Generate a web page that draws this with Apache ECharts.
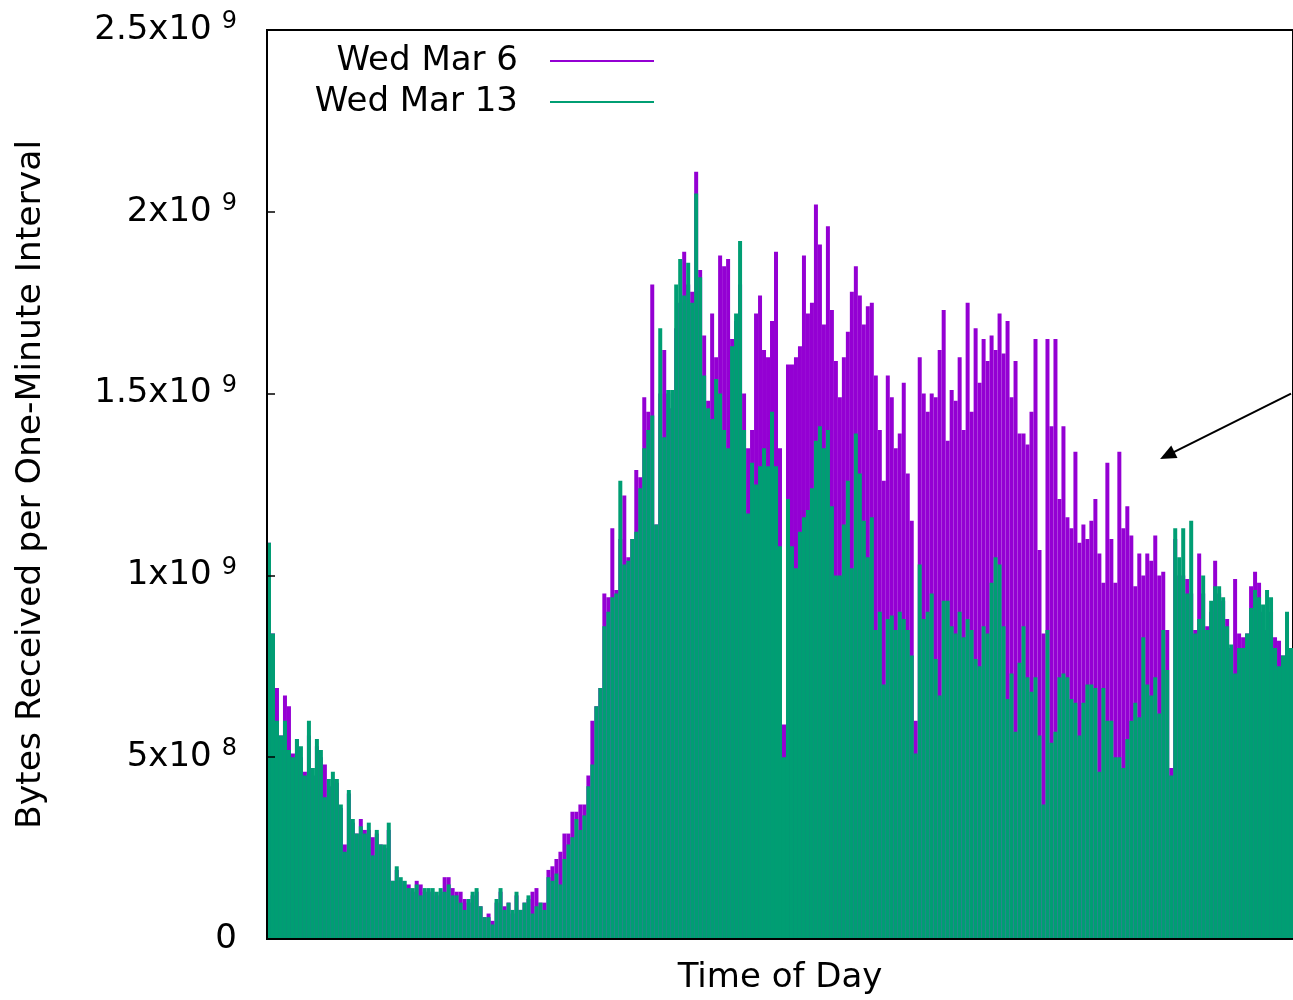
<!DOCTYPE html>
<html>
<head>
<meta charset="utf-8">
<script src="https://cdn.jsdelivr.net/npm/echarts@6/dist/echarts.min.js"></script>
<style>
  html, body { margin: 0; padding: 0; background: #fff; }
  #chart { width: 1293px; height: 1000px; }
</style>
</head>
<body>
<div id="chart"></div>
<script>
// bytes per one-minute interval, in units of 1e8, one bar per sample
const mar13 = [
  10.9, 8.4, 6.0, 5.6, 6.0, 5.2, 5.0, 5.5, 5.3, 4.5,
  6.0, 4.7, 5.5, 5.2, 3.9, 4.4, 4.6, 4.4, 3.7, 2.4,
  4.1, 3.3, 2.9, 3.1, 2.9, 3.2, 2.3, 3.0, 2.6, 2.6,
  3.2, 1.6, 2.0, 1.7, 1.6, 1.4, 1.4, 1.5, 1.2, 1.4,
  1.4, 1.4, 1.3, 1.4, 1.3, 1.5, 1.2, 1.2, 1.0, 0.8,
  1.1, 1.3, 1.4, 0.9, 0.6, 0.6, 0.4, 1.1, 1.4, 0.8,
  1.0, 0.8, 1.3, 0.8, 1.0, 1.2, 0.7, 0.9, 1.0, 0.8,
  1.7, 1.6, 1.8, 1.5, 2.2, 2.6, 2.8, 3.3, 3.0, 3.4,
  4.2, 4.8, 6.4, 6.9, 8.6, 9.0, 9.4, 9.5, 12.6, 10.3,
  10.4, 11.0, 11.2, 12.4, 13.5, 14.0, 14.4, 11.4, 16.8, 13.8,
  15.1, 15.1, 18.0, 18.7, 17.7, 18.6, 17.5, 20.5, 18.2, 15.5,
  14.6, 14.3, 15.4, 15.0, 14.0, 13.5, 16.3, 17.2, 19.2, 14.0,
  11.7, 13.1, 12.5, 13.0, 13.5, 13.0, 14.5, 13.0, 10.8, 5.0,
  12.1, 10.8, 10.2, 11.2, 11.6, 11.8, 12.4, 13.7, 14.1, 13.5,
  14.0, 11.9, 10.0, 10.0, 11.4, 12.6, 10.2, 13.9, 12.8, 11.5,
  10.5, 11.6, 8.5, 9.0, 7.0, 8.8, 8.9, 8.5, 9.0, 8.8,
  8.5, 7.8, 5.1, 10.3, 8.8, 9.0, 9.5, 7.7, 6.7, 9.3,
  9.3, 8.6, 8.4, 9.0, 8.3, 8.8, 8.5, 7.7, 7.5, 8.6,
  8.4, 9.8, 10.5, 10.3, 8.6, 6.6, 7.3, 5.7, 7.6, 8.6,
  7.2, 6.8, 7.2, 5.6, 3.7, 8.5, 5.4, 5.7, 7.2, 7.3,
  7.2, 6.6, 6.5, 5.6, 6.5, 7.0, 7.0, 6.9, 4.6, 6.9,
  6.0, 6.0, 5.0, 5.0, 4.7, 5.5, 6.0, 6.5, 6.1, 8.3,
  7.0, 6.7, 7.2, 6.2, 8.5, 7.4, 4.5, 11.3, 10.5, 11.3,
  9.5, 11.5, 8.4, 8.8, 10.0, 8.5, 9.3, 9.7, 9.7, 9.4,
  8.6, 8.1, 7.3, 8.0, 8.0, 8.4, 9.1, 9.6, 9.4, 9.2,
  9.6, 9.4, 8.0, 7.5, 7.8, 9.0, 8.0
]
const mar6 = [
  10.9, 8.4, 6.9, 5.6, 6.7, 6.4, 5.1, 5.5, 5.0, 4.6,
  5.6, 4.5, 5.3, 5.0, 4.8, 4.2, 4.4, 4.3, 3.6, 2.6,
  4.0, 3.2, 2.9, 3.3, 3.0, 3.0, 2.8, 2.9, 2.6, 2.5,
  3.0, 1.6, 1.9, 1.6, 1.5, 1.5, 1.3, 1.6, 1.5, 1.3,
  1.3, 1.3, 1.2, 1.3, 1.7, 1.7, 1.4, 1.3, 1.3, 1.1,
  1.0, 1.2, 1.3, 0.9, 0.6, 0.7, 0.5, 1.0, 1.3, 0.9,
  1.0, 0.7, 1.2, 0.8, 1.0, 1.1, 1.3, 1.4, 1.0, 1.0,
  1.9, 2.0, 2.2, 2.4, 2.9, 2.9, 3.5, 3.5, 3.7, 3.7,
  4.5, 6.0, 6.4, 6.9, 9.5, 9.4, 11.3, 9.6, 11.0, 12.2,
  10.5, 11.0, 12.9, 12.7, 14.9, 14.5, 18.0, 11.4, 15.0, 16.2,
  15.0, 14.6, 16.8, 17.5, 18.9, 18.0, 17.8, 21.1, 18.4, 16.6,
  14.8, 17.2, 16.0, 18.8, 18.5, 18.7, 16.5, 17.0, 18.0, 15.0,
  13.5, 14.0, 17.2, 17.7, 16.2, 16.0, 17.0, 18.9, 13.5, 5.9,
  15.8, 15.8, 16.0, 16.3, 18.8, 17.2, 17.5, 20.2, 19.1, 16.9,
  19.6, 17.3, 15.9, 14.9, 16.0, 16.7, 17.8, 18.5, 17.7, 16.9,
  17.4, 17.5, 15.5, 14.0, 12.6, 15.5, 14.9, 13.5, 13.9, 15.3,
  12.8, 11.5, 6.0, 16.0, 15.0, 14.5, 15.0, 14.9, 16.2, 17.3,
  13.7, 15.1, 14.8, 16.0, 14.0, 17.5, 14.5, 16.8, 15.3, 16.5,
  15.9, 16.6, 16.2, 17.2, 16.1, 17.0, 14.9, 15.9, 13.9, 13.9,
  13.6, 14.5, 16.5, 10.7, 8.4, 16.5, 14.1, 16.5, 12.1, 14.1,
  11.6, 11.3, 13.4, 10.9, 11.4, 11.0, 11.5, 12.1, 10.6, 9.8,
  13.1, 11.0, 9.8, 13.4, 11.3, 11.9, 11.1, 9.7, 10.6, 10.0,
  10.6, 10.4, 11.1, 10.0, 10.1, 8.5, 4.7, 11.0, 10.0, 10.0,
  9.9, 9.5, 8.5, 10.6, 9.5, 8.6, 9.0, 10.4, 9.5, 9.3,
  8.8, 8.0, 9.9, 8.4, 8.3, 8.4, 9.7, 10.1, 9.8, 9.0,
  8.5, 9.0, 8.3, 8.2, 7.8, 8.5, 7.8
]
const yTickValues = [0, 5, 10, 15, 20, 25]
const yTickLabels = ['0', '5x10^8', '1x10^9', '1.5x10^9', '2x10^9', '2.5x10^9']
// arrow annotation: [sample index, value] tail -> head
const arrowFrom = [256, 15.0]
const arrowTo = [225, 13.3]

const samples = mar13.map((_, i) => String(i))
const FONT = 'DejaVu Sans'
const PURPLE = '#9400d3'
const GREEN = '#009e73'

const chart = echarts.init(document.getElementById('chart'))
const legendText = {
    fontFamily: FONT,
    fontSize: 34,
    color: '#000',
    padding: [0, 27, 0, 0]
}
const option = {
    animation: false,
    backgroundColor: '#fff',
    grid: {
        left: 267, top: 30, width: 1028, height: 914,
        show: true, borderColor: '#000', borderWidth: 2
    },
    legend: [
        {
            data: ['Wed Mar 6'], right: 634, top: 39, align: 'right',
            icon: 'rect', itemWidth: 104, itemHeight: 2,
            textStyle: legendText, selectedMode: false
        },
        {
            data: ['Wed Mar 13'], right: 634, top: 80, align: 'right',
            icon: 'rect', itemWidth: 104, itemHeight: 2,
            textStyle: legendText, selectedMode: false
        }
    ],
    xAxis: {
        type: 'category',
        data: samples,
        z: 10,
        axisLine: { show: true, lineStyle: { color: '#000', width: 2 } },
        axisTick: { show: false },
        axisLabel: { show: false },
        name: 'Time of Day',
        nameLocation: 'middle',
        nameGap: 22,
        nameTextStyle: { fontFamily: FONT, fontSize: 34, color: '#000', verticalAlign: 'top' }
    },
    yAxis: {
        type: 'value',
        min: 0, max: 25, interval: 5,
        z: 10,
        axisLine: { show: true, lineStyle: { color: '#000', width: 2 } },
        axisTick: { show: true, inside: true, length: 8, lineStyle: { color: '#000', width: 1.5 } },
        splitLine: { show: false },
        axisLabel: {
            margin: 30,
            formatter: (v) => {
                const t = yTickLabels[yTickValues.indexOf(v)] || ''
                const parts = t.split('^')
                return parts.length > 1 ? `{b|${parts[0]}}{e|${parts[1]}}` : `{b|${parts[0]}}`
            },
            rich: {
                b: { fontFamily: FONT, fontSize: 34, color: '#000' },
                e: { fontFamily: FONT, fontSize: 24, color: '#000', padding: [0, 0, 16, 10] }
            }
        },
        name: 'Bytes Received per One-Minute Interval',
        nameLocation: 'middle',
        nameRotate: 90,
        nameGap: 218,
        nameTextStyle: { fontFamily: FONT, fontSize: 34.6, color: '#000' }
    },
    series: [
        {
            name: 'Wed Mar 6',
            type: 'bar',
            data: mar6,
            barGap: '-100%',
            barCategoryGap: '0%',
            itemStyle: { color: PURPLE },
            silent: true
        },
        {
            name: 'Wed Mar 13',
            type: 'bar',
            data: mar13,
            barGap: '-100%',
            barCategoryGap: '0%',
            itemStyle: { color: GREEN },
            silent: true,
            markLine: {
                silent: true,
                symbol: ['none', 'triangle'],
                symbolSize: [14, 16],
                label: { show: false },
                lineStyle: { color: '#000', width: 2, type: 'solid' },
                data: [[
                    { coord: [String(arrowFrom[0]), arrowFrom[1]] },
                    { coord: [String(arrowTo[0]), arrowTo[1]] }
                ]]
            }
        }
    ]
}
chart.setOption(option)
</script>
</body>
</html>
